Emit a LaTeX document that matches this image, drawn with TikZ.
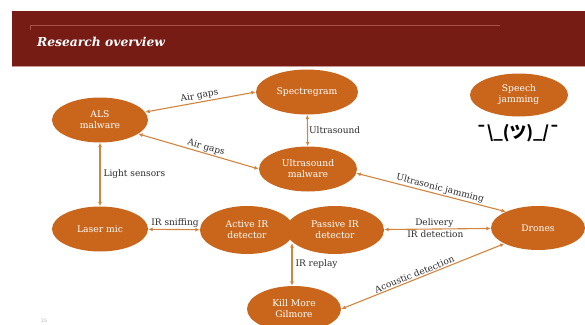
\documentclass[tikz,border=0pt]{standalone}
\usepackage{fontspec}
\setmainfont{DejaVu Serif}
\newfontfamily\cjkfont{Noto Sans CJK JP}
\usetikzlibrary{shapes.geometric,arrows.meta}
\definecolor{bannerred}{HTML}{761C15}
\definecolor{bannerline}{HTML}{A8524A}
\definecolor{nodeorange}{HTML}{C9661C}
\definecolor{edgeorange}{HTML}{D3853F}
\definecolor{labelgray}{HTML}{2B2B2B}
\tikzset{
  topic/.style={ellipse, fill=nodeorange, draw=none, text=white, inner sep=0pt,
    minimum width=96pt, minimum height=45pt, align=center,
    font=\fontsize{9.2}{11}\selectfont},
  link/.style={draw=edgeorange, line width=1.1pt,
    {Latex[length=4.5pt,width=4pt]}-{Latex[length=4.5pt,width=4pt]}},
  tag/.style={text=labelgray, font=\fontsize{9}{10.5}\selectfont, inner sep=1pt}
}
\begin{document}
\begin{tikzpicture}[x=1pt,y=-1pt]
\useasboundingbox (0,0) rectangle (585,324);
\fill[white] (0,0) rectangle (585,324);

% title banner
\fill[bannerred] (12,11) rectangle (585,66);
\draw[bannerline, line width=0.8pt] (30,30) -- (30,25) -- (500,25);
\draw[bannerline!60!white, line width=0.6pt] (12,66) -- (585,66);
\node[anchor=base west, text=white, inner sep=0pt,
  font=\fontsize{12.3}{14}\selectfont\bfseries\itshape] (title) at (37,46) {Research overview};

% topics
\node[topic] (als)   at (100,120) {ALS\\malware};
\node[topic, minimum width=102pt] (spec) at (307,92) {Spectregram};
\node[topic, minimum width=98pt, minimum height=43pt] (speech) at (519,95) {Speech\\jamming};
\node[topic, minimum width=98pt] (us)    at (308,169) {Ultrasound\\malware};
\node[topic] (laser) at (100,229) {Laser mic};
\node[topic, minimum width=94pt, minimum height=48pt] (act) at (247,230) {Active IR\\detector};
\node[topic, minimum width=98pt, minimum height=48pt] (pas) at (335,230) {Passive IR\\detector};
\node[topic, minimum width=94pt, minimum height=44pt] (drones) at (538,228) {Drones};
\node[topic, minimum width=94pt, minimum height=46pt] (kill) at (294,309) {Kill More\\Gilmore};

% shrug under the speech jamming topic
\node[text=black, inner sep=0pt, font=\cjkfont\bfseries\fontsize{16.8}{18}\selectfont]
  (shrug) at (518,133) {¯\textbackslash\_(ツ)\_/¯};

% point where the two IR detectors meet
\coordinate (irjoint) at (292,243);

% connections
\draw[link] (als.10) -- node[tag, sloped, above] {Air gaps} (spec.west);
\draw[link] (als.-20) -- node[tag, sloped, above, pos=0.55] {Air gaps} (us.west);
\draw[link] (spec) -- node[tag, right, pos=0.5] {Ultrasound} (us);
\draw[link] (als) -- node[tag, right, pos=0.5, xshift=2pt] {Light sensors} (laser);
\draw[link] (laser) -- node[tag, above, pos=0.52] {IR sniffing} (act);
\draw[link] (pas) -- node[tag, above, pos=0.47] {Delivery}
  node[tag, below, pos=0.48] {IR detection} (drones);
\draw[link] (us.-5) -- node[tag, sloped, above, pos=0.55] {Ultrasonic jamming} (drones.153);
\draw[link] (irjoint) -- node[tag, right, pos=0.5, xshift=2pt] {IR replay} (irjoint |- kill.north);
\draw[link] (kill.east) -- node[tag, sloped, above, pos=0.46] {Acoustic detection} (drones.205);

% page number
\node[text=gray!70, font=\fontsize{4.5}{5}\selectfont, inner sep=0pt] (page) at (44,321) {25};
\end{tikzpicture}
\end{document}
